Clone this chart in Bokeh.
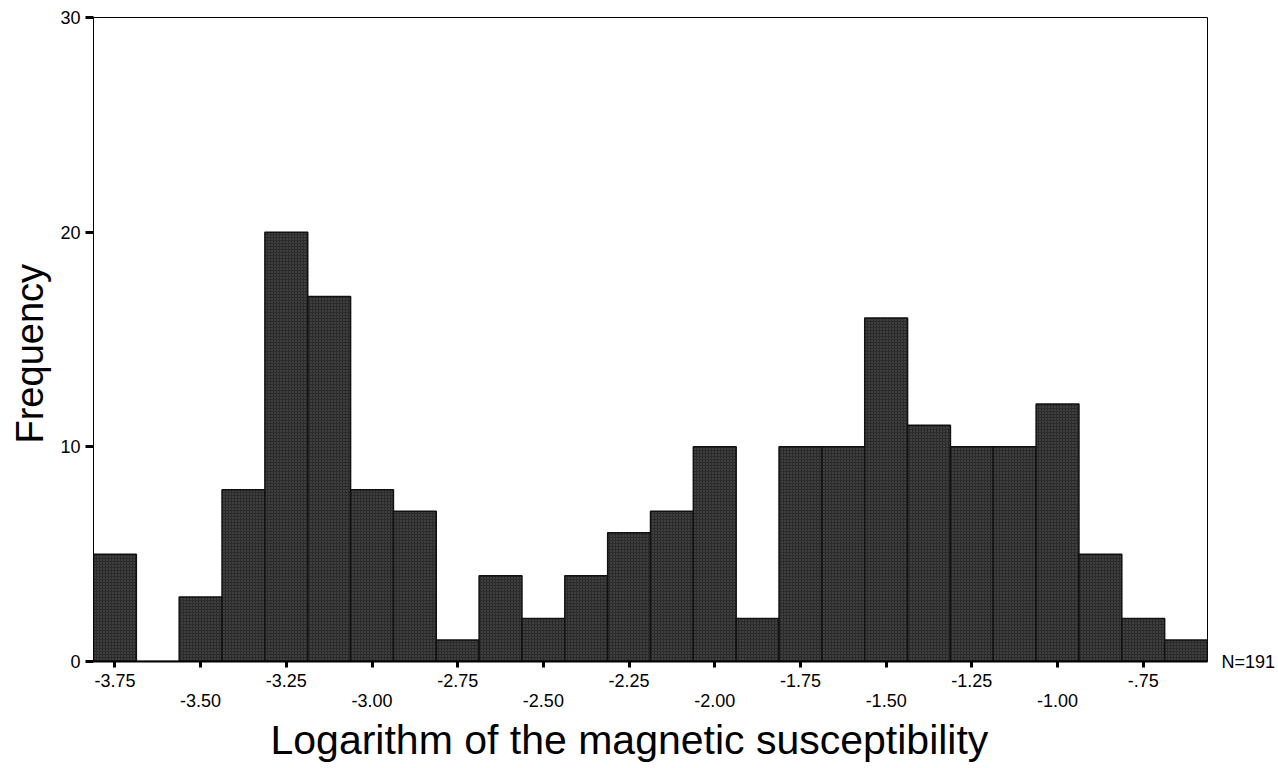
from bokeh.plotting import figure
from bokeh.models import Range1d, FixedTicker, LinearAxis, Title
from bokeh.embed import file_html
from bokeh.resources import INLINE

# Histogram of log10 magnetic susceptibility, bin width 0.125
bin_centers = [-3.75, -3.625, -3.5, -3.375, -3.25, -3.125, -3.0, -2.875, -2.75,
               -2.625, -2.5, -2.375, -2.25, -2.125, -2.0, -1.875, -1.75, -1.625,
               -1.5, -1.375, -1.25, -1.125, -1.0, -0.875, -0.75, -0.625]
counts = [5, 0, 3, 8, 20, 17, 8, 7, 1, 4, 2, 4, 6, 7, 10, 2, 10, 10,
          16, 11, 10, 10, 12, 5, 2, 1]
bin_width = 0.125

upper_ticks = [-3.75, -3.25, -2.75, -2.25, -1.75, -1.25, -0.75]
upper_labels = ["-3.75", "-3.25", "-2.75", "-2.25", "-1.75", "-1.25", "-.75"]
lower_ticks = [-3.5, -3.0, -2.5, -2.0, -1.5, -1.0]
lower_labels = ["-3.50", "-3.00", "-2.50", "-2.00", "-1.50", "-1.00"]
y_ticks = [0, 10, 20, 30]
n_total = "N=191"
x_title = "Logarithm of the magnetic susceptibility"
y_title = "Frequency"

FONT = "Liberation Sans"
TICK_FS = "18px"

p = figure(width=1278, height=768, output_backend="svg", toolbar_location=None,
           x_range=Range1d(-3.8125, -0.5625), y_range=Range1d(0, 30),
           x_axis_location=None, y_axis_location=None,
           min_border_left=93, min_border_right=69, min_border_top=17,
           min_border_bottom=107)
p.background_fill_color = "white"
p.border_fill_color = "white"
p.outline_line_color = "black"
p.outline_line_width = 1
p.xgrid.visible = False
p.ygrid.visible = False

p.vbar(x=bin_centers, top=counts, bottom=0, width=bin_width,
       fill_color="#2b2b2b", line_color="#111111", line_width=1.5,
       hatch_pattern=".", hatch_color="#7a7a7a", hatch_scale=3, hatch_weight=1,
       hatch_alpha=0.6)

# Left axis
yax = LinearAxis(ticker=FixedTicker(ticks=y_ticks))
yax.axis_line_color = "black"
yax.major_tick_out = 8
yax.major_tick_in = 0
yax.major_tick_line_width = 3
yax.minor_tick_line_color = None
yax.major_label_text_font = FONT
yax.major_label_text_font_size = TICK_FS
yax.major_label_text_color = "black"
yax.major_label_standoff = 5
p.add_layout(yax, "left")

# Right axis carries only the sample size at the baseline
nax = LinearAxis(ticker=FixedTicker(ticks=[0]),
                 major_label_overrides={0: n_total})
nax.axis_line_color = None
nax.major_tick_line_color = None
nax.minor_tick_line_color = None
nax.major_label_text_font = FONT
nax.major_label_text_font_size = TICK_FS
nax.major_label_text_color = "black"
nax.major_label_standoff = 8
p.add_layout(nax, "right")

# Bottom axis: tick marks at every 0.25, labels alternate on two rows
all_ticks = sorted(upper_ticks + lower_ticks)
overrides = {t: "" for t in lower_ticks}
overrides.update(dict(zip(upper_ticks, upper_labels)))
xax = LinearAxis(ticker=FixedTicker(ticks=all_ticks),
                 major_label_overrides=overrides)
xax.axis_line_color = "black"
xax.axis_line_width = 2
xax.major_tick_out = 6
xax.major_tick_in = 0
xax.major_tick_line_width = 3
xax.minor_tick_line_color = None
xax.major_label_text_font = FONT
xax.major_label_text_font_size = TICK_FS
xax.major_label_text_color = "black"
xax.major_label_standoff = 6
p.add_layout(xax, "below")

xax2 = LinearAxis(ticker=FixedTicker(ticks=lower_ticks),
                  major_label_overrides=dict(zip(lower_ticks, lower_labels)))
xax2.axis_line_color = None
xax2.major_tick_line_color = None
xax2.major_tick_out = 0
xax2.major_tick_in = 0
xax2.minor_tick_line_color = None
xax2.major_label_text_font = FONT
xax2.major_label_text_font_size = TICK_FS
xax2.major_label_text_color = "black"
xax2.major_label_standoff = 4
p.add_layout(xax2, "below")

# Axis titles as panel titles
p.add_layout(Title(text=x_title, align="left", offset=177, standoff=10,
                   text_font=FONT, text_font_size="41px",
                   text_font_style="normal", text_color="black"), "below")
p.add_layout(Title(text=y_title, align="left", offset=218, standoff=13,
                   text_font=FONT, text_font_size="38px",
                   text_font_style="normal", text_color="black"), "left")

open("out.html", "w").write(file_html(p, INLINE))
